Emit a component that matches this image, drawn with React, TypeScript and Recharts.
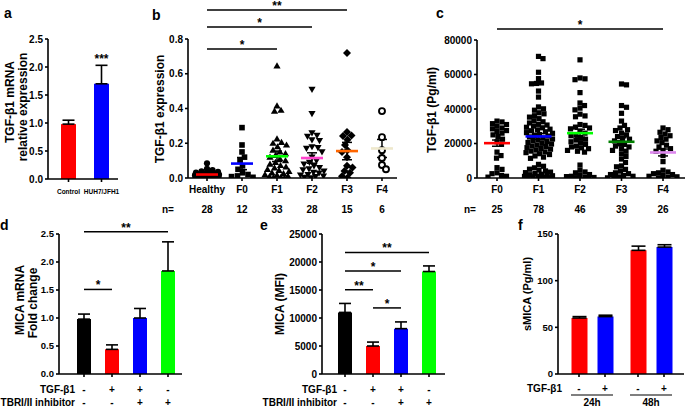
import React from 'react';
import {
  BarChart,
  Bar,
  Cell,
  XAxis,
  YAxis,
  ErrorBar,
  ReferenceLine,
  ReferenceDot,
  ScatterChart,
  Scatter,
} from 'recharts';

const W = 685;
const H = 407;
const FONT = '"Liberation Sans", Arial, Helvetica, sans-serif';
const YW = 30; // y axis width
const XH = 30; // x axis height

// ---------- a: TGF-b1 mRNA
const aGroups = ['Control', 'HUH7/JFH1'];
const aMean = [0.98, 1.7];
const aErr = [0.07, 0.33];
const aTicks = [0, 0.5, 1, 1.5, 2, 2.5];

// ---------- b: TGF-b1 expression by fibrosis stage
const bGroups = ['Healthy', 'F0', 'F1', 'F2', 'F3', 'F4'];
const bN = [28, 12, 33, 28, 15, 6];
const bHealthy = [0.085, 0.052, 0.045, 0.038, 0.035, 0.031, 0.028, 0.027, 0.024, 0.022, 0.021, 0.019, 0.018, 0.016,
  0.015, 0.013, 0.012, 0.011, 0.01, 0.009, 0.008, 0.007, 0.006, 0.005, 0.004, 0.003, 0.002, 0.001];
const bF0 = [0.29, 0.19, 0.15, 0.12, 0.1, 0.07, 0.05, 0.03, 0.02, 0.012, 0.008, 0.004];
const bF1 = [0.645, 0.415, 0.39, 0.385, 0.225, 0.205, 0.2, 0.19, 0.18, 0.16, 0.15, 0.14, 0.13, 0.12, 0.11, 0.1, 0.09,
  0.08, 0.072, 0.064, 0.058, 0.05, 0.044, 0.038, 0.03, 0.026, 0.02, 0.017, 0.011, 0.008, 0.005, 0.003, 0.001];
const bF2 = [0.51, 0.37, 0.26, 0.245, 0.24, 0.22, 0.215, 0.18, 0.175, 0.17, 0.15, 0.12, 0.1, 0.09, 0.08, 0.07, 0.06,
  0.052, 0.047, 0.04, 0.032, 0.028, 0.02, 0.017, 0.011, 0.008, 0.004, 0.001];
const bF3 = [0.72, 0.265, 0.245, 0.242, 0.22, 0.19, 0.16, 0.15, 0.12, 0.07, 0.06, 0.04, 0.03, 0.01, 0.001];
const bF4 = [0.385, 0.235, 0.16, 0.115, 0.075, 0.05];
const bValues = [bHealthy, bF0, bF1, bF2, bF3, bF4];
const bMean = [0.02, 0.083, 0.125, 0.115, 0.155, 0.17];
const bSem = [0.004, 0.035, 0.03, 0.03, 0.05, 0.052];
const bTicks = [0, 0.2, 0.4, 0.6, 0.8];
const bSig = [
  { from: 0, to: 2, y: 0.742, text: '*' },
  { from: 0, to: 3, y: 0.869, text: '*' },
  { from: 0, to: 4, y: 0.967, text: '**' },
];

// ---------- c: serum TGF-b1
const cGroups = ['F0', 'F1', 'F2', 'F3', 'F4'];
const cN = [25, 78, 46, 39, 26];
const cF0 = [33000, 32500, 31500, 31000, 30000, 29000, 28500, 27500, 27000, 26000, 25000, 24000, 22500, 21000, 19500,
  15000, 13000, 11500, 6000, 5000, 3000, 2500, 1500, 1000, 500];
const cF1 = [70500, 69200, 61300, 57600, 55100, 54800, 54600, 50400, 46900, 41200, 40100, 39300, 37800, 37200, 36100,
  35300, 34400, 33200, 32600, 31900, 31100, 30700, 30100, 29400, 29100, 28300, 27900, 27400, 26800, 26300, 25900,
  25200, 24700, 24300, 23800, 23100, 22600, 22100, 21700, 21200, 20600, 20100, 19700, 19100, 18600, 18200, 17600,
  17100, 16700, 16200, 15600, 15100, 14700, 14100, 13600, 12800, 12100, 11400, 7900, 6800, 5900, 5100, 4600, 4100,
  3400, 3100, 2600, 2200, 1900, 1600, 1300, 1100, 900, 700, 500, 300, 200, 100];
const cF2 = [68500, 58000, 57500, 57000, 49500, 43500, 42000, 40500, 39500, 37000, 36000, 35500, 31000, 30500, 29500,
  29000, 28500, 27000, 26000, 25000, 24500, 23500, 22500, 22000, 21000, 20500, 19500, 18500, 18000, 17500, 17000,
  16000, 15500, 15000, 7500, 4500, 3500, 3000, 2000, 1500, 1000, 800, 500, 300, 200, 100];
const cF3 = [54500, 54000, 42000, 41000, 37500, 33000, 30500, 29000, 28000, 27500, 26000, 25000, 24000, 23000, 22500,
  21500, 20500, 19500, 18500, 18000, 17000, 16000, 15500, 14000, 12500, 11000, 9000, 7000, 6500, 5000, 4000, 3000,
  2500, 2000, 1500, 1000, 600, 300, 100];
const cF4 = [29000, 28000, 26500, 25500, 24500, 23500, 22500, 21500, 20500, 19000, 18000, 17000, 16000, 15500, 13000,
  9500, 4500, 3500, 3000, 2500, 2000, 1500, 1000, 700, 400, 100];
const cValues = [cF0, cF1, cF2, cF3, cF4];
const cMean = [20200, 24100, 26000, 21000, 14800];
const cSem = [1800, 1700, 2300, 2300, 2000];
const cTicks = [0, 20000, 40000, 60000, 80000];
const cSig = [{ from: 0, to: 4, y: 86400, text: '*' }];

// ---------- d: MICA mRNA
const condNames = ['ctrl', 'tgf', 'tgf+inh', 'inh'];
const condTgf = ['-', '+', '+', '-'];
const condInh = ['-', '-', '+', '+'];
const dMean = [0.98, 0.44, 1.0, 1.84];
const dErr = [0.09, 0.08, 0.17, 0.52];
const dTicks = [0, 0.5, 1, 1.5, 2, 2.5];
const dSig = [
  { from: 0, to: 1, y: 1.51, text: '*' },
  { from: 0, to: 3, y: 2.54, text: '**' },
];

// ---------- e: MICA (MFI)
const eMean = [11000, 5000, 8100, 18300];
const eErr = [1600, 700, 1200, 1000];
const eTicks = [0, 5000, 10000, 15000, 20000, 25000];
const eSig = [
  { from: 0, to: 3, y: 21700, text: '**' },
  { from: 0, to: 2, y: 18400, text: '*' },
  { from: 0, to: 1, y: 15050, text: '**' },
  { from: 1, to: 2, y: 11800, text: '*' },
];

// ---------- f: sMICA
const fTimes = ['24h', '48h'];
const fTgf = ['-', '+'];
const fMinus = [60, 132.5];
const fMinusErr = [1.5, 4.5];
const fPlus = [61.5, 136];
const fPlusErr = [1.5, 2.5];
const fTicks = [0, 50, 100, 150];

// ---------- styles
const barColors = ['#000000', '#ff0000', '#0000ff', '#00ff00'];
const bMeanColors = ['#ff0000', '#0000ff', '#00ff00', '#ff44cc', '#ff6600', '#eee8cc'];
const cMeanColors = ['#ff0000', '#0000ff', '#00ff00', '#008000', '#dd88ee'];
const axisLine = { stroke: '#000', strokeWidth: 1.6 };
const tickText = { fill: '#000', fontSize: 10, fontWeight: 700, fontFamily: FONT };
const smallTick = { ...tickText, fontSize: 9.5 };
const starLabel = (text: string) => ({
  value: text, position: 'top' as const, offset: 0, fill: '#000', fontSize: 12, fontWeight: 700, fontFamily: FONT,
});

// plot area given in page pixels -> chart margin (axes take YW / XH of it)
const box = (l: number, t: number, r: number, b: number) => ({
  left: l - YW, top: t, right: W - r, bottom: H - b - XH,
});

// beeswarm offsets in pixels, widest allowed spread maxHalf
function swarm(values: number[], yMax: number, plotH: number, diam: number, maxHalf: number) {
  const order = values.map((v, i) => ({ v, i })).sort((p, q) => q.v - p.v);
  const placed: { x: number; y: number }[] = [];
  const dx = values.map(() => 0);
  for (const { v, i } of order) {
    const py = (v / yMax) * plotH;
    let bestOff = 0;
    let bestGap = -1;
    for (let k = 0; ; k++) {
      const off = (k % 2 === 1 ? 1 : -1) * Math.ceil(k / 2) * 0.5;
      if (Math.abs(off) > maxHalf) break;
      let gap = Infinity;
      for (const p of placed) gap = Math.min(gap, Math.hypot(p.x - off, p.y - py));
      if (gap >= diam) { bestOff = off; break; }
      if (gap > bestGap) { bestGap = gap; bestOff = off; }
    }
    placed.push({ x: bestOff, y: py });
    dx[i] = bestOff;
  }
  return dx;
}

function marker(kind: string) {
  return (props: any) => {
    const { cx, cy, payload } = props;
    if (cx == null || cy == null) return <g />;
    const x = cx + (payload.dx || 0);
    const y = cy;
    if (kind === 'circle') return <circle cx={x} cy={y} r={3.1} fill="#000" />;
    if (kind === 'open') return <circle cx={x} cy={y} r={3} fill="#fff" stroke="#000" strokeWidth={1.9} />;
    if (kind === 'square') return <rect x={x - 2.8} y={y - 2.8} width={5.6} height={5.6} fill="#000" />;
    if (kind === 'sq5') return <rect x={x - 2.6} y={y - 2.6} width={5.2} height={5.2} fill="#000" />;
    if (kind === 'up') return <polygon points={`${x},${y - 3.6} ${x - 3.6},${y + 2.6} ${x + 3.6},${y + 2.6}`} fill="#000" />;
    if (kind === 'down') return <polygon points={`${x},${y + 3.6} ${x - 3.6},${y - 2.6} ${x + 3.6},${y - 2.6}`} fill="#000" />;
    return <polygon points={`${x},${y - 4} ${x + 4},${y} ${x},${y + 4} ${x - 4},${y}`} fill="#000" />;
  };
}

const meanLine = (colors: string[], half: number) => (props: any) => {
  const { cx, cy, payload } = props;
  if (cx == null || cy == null) return <g />;
  return <line x1={cx - half} x2={cx + half} y1={cy} y2={cy} stroke={colors[payload.x]} strokeWidth={2.6} />;
};

const bShapes = ['circle', 'square', 'up', 'down', 'diamond', 'open'];

function PanelA() {
  const data = aGroups.map((name, i) => ({ name, v: aMean[i], err: [0, aErr[i]] }));
  const Tick = (p: any) => (
    <text x={p.x} y={194} textAnchor="middle" fontSize={6.5} fontWeight={700} fontFamily={FONT} fill="#000">
      {p.payload.value}
    </text>
  );
  return (
    <BarChart width={W} height={H} margin={box(48, 39, 118, 179)} data={data} barSize={15}>
      <XAxis dataKey="name" height={XH} padding={{ left: 4, right: 0 }} axisLine={axisLine} tickLine={axisLine}
        tickSize={3} tick={<Tick />} interval={0} />
      <YAxis width={YW} domain={[0, 2.5]} ticks={aTicks} allowDataOverflow axisLine={axisLine} tickLine={axisLine}
        tickSize={3} tickMargin={2} tick={tickText} tickFormatter={(v: number) => v.toFixed(1)} interval={0} />
      <Bar dataKey="v" isAnimationActive={false}>
        {data.map((_, i) => <Cell key={i} fill={barColors[i + 1]} />)}
        <ErrorBar dataKey="err" direction="y" width={6} stroke="#000" strokeWidth={1.6} isAnimationActive={false} />
      </Bar>
      <ReferenceDot x={aGroups[1]} y={2.08} r={0} fill="none" stroke="none" ifOverflow="visible"
        label={starLabel('***')} />
    </BarChart>
  );
}

function ScatterPanel(props: {
  margin: any; xDomain: number[]; groups: string[]; n: number[]; values: number[][]; mean: number[]; sem: number[];
  yMax: number; yTicks: number[]; plotH: number; shapes: string[]; diam: number; maxHalf: number; colors: string[];
  halfMean: number; sig: any[];
}) {
  const { margin, xDomain, groups, n, values, mean, sem, yMax, yTicks, plotH, shapes, diam, maxHalf, colors, halfMean, sig } = props;
  const series = values.map((vals, g) => {
    const dx = swarm(vals, yMax, plotH, diam, maxHalf);
    return vals.map((v, i) => ({ x: g, y: v, dx: dx[i] }));
  });
  const means = mean.map((m, g) => ({ x: g, y: m, sem: [sem[g], sem[g]] }));
  const Tick = (p: any) => (
    <g>
      <text x={p.x} y={193} textAnchor="middle" {...tickText}>{groups[p.payload.value]}</text>
      <text x={p.x} y={213} textAnchor="middle" {...tickText}>{n[p.payload.value]}</text>
    </g>
  );
  return (
    <ScatterChart width={W} height={H} margin={margin}>
      <XAxis type="number" dataKey="x" domain={xDomain} allowDataOverflow ticks={groups.map((_, i) => i)}
        interval={0} height={XH} axisLine={axisLine} tickLine={axisLine} tickSize={3} tick={<Tick />} />
      <YAxis type="number" dataKey="y" width={YW} domain={[0, yMax]} ticks={yTicks} allowDataOverflow interval={0}
        axisLine={axisLine} tickLine={axisLine} tickSize={3} tickMargin={2} tick={tickText}
        tickFormatter={(v: number) => (yMax < 10 ? v.toFixed(1) : String(v))} />
      {series.map((d, g) => (
        <Scatter key={g} data={d} shape={marker(shapes[g])} isAnimationActive={false} />
      ))}
      <Scatter data={means} shape={meanLine(colors, halfMean)} isAnimationActive={false}>
        <ErrorBar dataKey="sem" direction="y" width={5} stroke="#000" strokeWidth={1.5} isAnimationActive={false} />
      </Scatter>
      {sig.map((s, i) => (
        <ReferenceLine key={i} segment={[{ x: s.from, y: s.y }, { x: s.to, y: s.y }]} stroke="#000" strokeWidth={1.5}
          ifOverflow="visible" label={starLabel(s.text)} />
      ))}
    </ScatterChart>
  );
}

function ConditionPanel(props: { margin: any; mean: number[]; err: number[]; yMax: number; yTicks: number[];
  fmt: (v: number) => string; sig: any[]; padLeft: number; padRight: number; yTick: any }) {
  const { margin, mean, err, yMax, yTicks, fmt, sig, padLeft, padRight, yTick } = props;
  const data = condNames.map((name, i) => ({ name, v: mean[i], err: [0, err[i]] }));
  const Tick = (p: any) => {
    const i = p.index ?? p.payload?.index ?? condNames.indexOf(p.payload.value);
    return (
      <g>
        <text x={p.x} y={393} textAnchor="middle" {...tickText}>{condTgf[i]}</text>
        <text x={p.x} y={406} textAnchor="middle" {...tickText}>{condInh[i]}</text>
      </g>
    );
  };
  return (
    <BarChart width={W} height={H} margin={margin} data={data} barSize={14}>
      <XAxis dataKey="name" height={XH} padding={{ left: padLeft, right: padRight }} axisLine={axisLine}
        tickLine={axisLine} tickSize={3} tick={<Tick />} interval={0} />
      <YAxis width={YW} domain={[0, yMax]} ticks={yTicks} allowDataOverflow axisLine={axisLine} tickLine={axisLine}
        tickSize={3} tickMargin={2} tick={yTick} tickFormatter={fmt} interval={0} />
      <Bar dataKey="v" isAnimationActive={false}>
        {data.map((_, i) => <Cell key={i} fill={barColors[i]} />)}
        <ErrorBar dataKey="err" direction="y" width={6} stroke="#000" strokeWidth={1.6} isAnimationActive={false} />
      </Bar>
      {sig.map((s, i) => (
        <ReferenceLine key={i} segment={[{ x: condNames[s.from], y: s.y }, { x: condNames[s.to], y: s.y }]}
          stroke="#000" strokeWidth={1.5} ifOverflow="visible" label={starLabel(s.text)} />
      ))}
    </BarChart>
  );
}

function PanelF() {
  const data = fTimes.map((name, i) => ({
    name, minus: fMinus[i], plus: fPlus[i], minusErr: [0, fMinusErr[i]], plusErr: [0, fPlusErr[i]],
  }));
  const size = 16;
  const gap = 10;
  const off = (size + gap) / 2;
  const Tick = (p: any) => (
    <g>
      <line x1={p.x - off} x2={p.x - off} y1={374} y2={377} stroke="#000" strokeWidth={1.6} />
      <line x1={p.x + off} x2={p.x + off} y1={374} y2={377} stroke="#000" strokeWidth={1.6} />
      <text x={p.x - off} y={392} textAnchor="middle" {...tickText}>{fTgf[0]}</text>
      <text x={p.x + off} y={392} textAnchor="middle" {...tickText}>{fTgf[1]}</text>
      <line x1={p.x - off - 8} x2={p.x + off + 8} y1={395} y2={395} stroke="#000" strokeWidth={1.2} />
      <text x={p.x} y={406} textAnchor="middle" {...tickText}>{p.payload.value}</text>
    </g>
  );
  return (
    <BarChart width={W} height={H} margin={box(558, 234, 684, 374)} data={data} barSize={size} barGap={gap}>
      <XAxis dataKey="name" height={XH} padding={{ left: 4.5, right: 3.5 }} axisLine={axisLine} tickLine={false}
        tick={<Tick />} interval={0} />
      <YAxis width={YW} domain={[0, 150]} ticks={fTicks} allowDataOverflow axisLine={axisLine} tickLine={axisLine}
        tickSize={3} tickMargin={2} tick={smallTick} interval={0} />
      <Bar dataKey="minus" fill="#ff0000" isAnimationActive={false}>
        <ErrorBar dataKey="minusErr" direction="y" width={7} stroke="#000" strokeWidth={1.6} isAnimationActive={false} />
      </Bar>
      <Bar dataKey="plus" fill="#0000ff" isAnimationActive={false}>
        <ErrorBar dataKey="plusErr" direction="y" width={7} stroke="#000" strokeWidth={1.6} isAnimationActive={false} />
      </Bar>
    </BarChart>
  );
}

const txt = { fill: '#000', fontWeight: 700, fontFamily: FONT } as const;
const VLabel = ({ x, y, children, size = 12 }: any) => (
  <text transform={`translate(${x},${y}) rotate(-90)`} textAnchor="middle" dominantBaseline="central" fontSize={size} {...txt}>
    {children}
  </text>
);

function Overlay() {
  return (
    <svg width={W} height={H} style={{ position: 'absolute', left: 0, top: 0 }}>
      <text x={4} y={18} fontSize={14} {...txt}>a</text>
      <text x={152} y={20} fontSize={14} {...txt}>b</text>
      <text x={436} y={18} fontSize={14} {...txt}>c</text>
      <text x={0} y={230} fontSize={14} {...txt}>d</text>
      <text x={260} y={230} fontSize={14} {...txt}>e</text>
      <text x={518} y={230} fontSize={14} {...txt}>f</text>

      <VLabel x={10} y={102}>TGF-β1 mRNA</VLabel>
      <VLabel x={23} y={107}>relative expression</VLabel>
      <VLabel x={160} y={109}>TGF-β1 expression</VLabel>
      <VLabel x={432} y={110}>TGF-β1 (Pg/ml)</VLabel>
      <VLabel x={20} y={300}>MICA mRNA</VLabel>
      <VLabel x={33} y={303}>Fold change</VLabel>
      <VLabel x={280} y={304}>MICA (MFI)</VLabel>
      <VLabel x={527} y={294} size={11}>sMICA (Pg/ml)</VLabel>

      <text x={168} y={213} textAnchor="middle" {...tickText}>n=</text>
      <text x={470} y={213} textAnchor="middle" {...tickText}>n=</text>

      <text x={75} y={393} textAnchor="end" {...tickText}>TGF-β1</text>
      <text x={75} y={406} textAnchor="end" {...tickText}>TBRI/II inhibitor</text>
      <text x={337} y={393} textAnchor="end" {...tickText}>TGF-β1</text>
      <text x={337} y={406} textAnchor="end" {...tickText}>TBRI/II inhibitor</text>
      <text x={562} y={392} textAnchor="end" {...tickText}>TGF-β1</text>
    </svg>
  );
}

const layer: React.CSSProperties = { position: 'absolute', left: 0, top: 0 };

export default function App() {
  return (
    <div style={{ position: 'relative', width: W, height: H, background: '#fff', overflow: 'hidden', fontFamily: FONT }}>
      <style>{'body{margin:0;}'}</style>
      <div style={layer}><PanelA /></div>
      <div style={layer}>
        <ScatterPanel margin={box(188, 39, 397, 178)} xDomain={[-0.543, 5.429]} groups={bGroups} n={bN}
          values={bValues} mean={bMean} sem={bSem} yMax={0.8} yTicks={bTicks} plotH={139} shapes={bShapes}
          diam={5.6} maxHalf={12} colors={bMeanColors} halfMean={11} sig={bSig} />
      </div>
      <div style={layer}>
        <ScatterPanel margin={box(477, 40, 685, 178)} xDomain={[-0.482, 4.53]} groups={cGroups} n={cN}
          values={cValues} mean={cMean} sem={cSem} yMax={80000} yTicks={cTicks} plotH={138}
          shapes={['sq5', 'sq5', 'sq5', 'sq5', 'sq5']} diam={5} maxHalf={14} colors={cMeanColors} halfMean={13}
          sig={cSig} />
      </div>
      <div style={layer}>
        <ConditionPanel margin={box(59, 234, 182, 374)} mean={dMean} err={dErr} yMax={2.5} yTicks={dTicks}
          fmt={(v) => v.toFixed(1)} sig={dSig} padLeft={11} padRight={0} yTick={smallTick} />
      </div>
      <div style={layer}>
        <ConditionPanel margin={box(322, 234, 445, 374)} mean={eMean} err={eErr} yMax={25000} yTicks={eTicks}
          fmt={(v) => String(v)} sig={eSig} padLeft={9} padRight={2} yTick={tickText} />
      </div>
      <div style={layer}><PanelF /></div>
      <Overlay />
    </div>
  );
}
